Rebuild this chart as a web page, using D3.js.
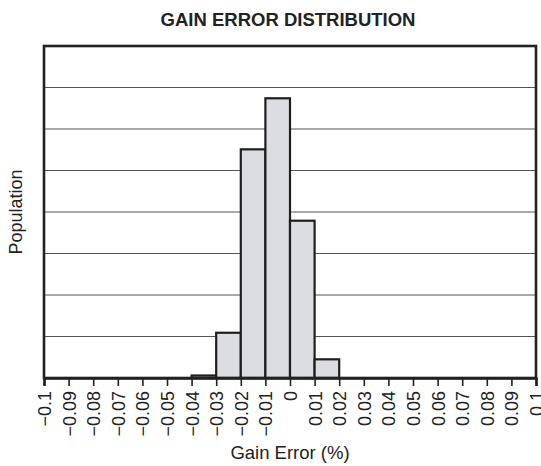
<!DOCTYPE html>
<html>
<head>
<meta charset="utf-8">
<script src="https://cdn.jsdelivr.net/npm/d3@7"></script>
<style>
  html, body { margin: 0; padding: 0; background: #fff; }
  svg { display: block; }
  text { font-family: "Liberation Sans", Arial, Helvetica, sans-serif; fill: #222; }
</style>
</head>
<body>
<svg id="chart" width="541" height="466"></svg>
<script>
// Data (population in gridline units; axis has no numeric labels)
const binStarts = [-0.04, -0.03, -0.02, -0.01, 0.00, 0.01];
const binWidth = 0.01;
const population = [0.06, 1.09, 5.51, 6.74, 3.79, 0.45];
const xTickValues = [-0.1, -0.09, -0.08, -0.07, -0.06, -0.05, -0.04, -0.03, -0.02, -0.01, 0,
                     0.01, 0.02, 0.03, 0.04, 0.05, 0.06, 0.07, 0.08, 0.09, 0.1];
const xTickLabels = ["\u22120.1", "\u22120.09", "\u22120.08", "\u22120.07", "\u22120.06", "\u22120.05",
                     "\u22120.04", "\u22120.03", "\u22120.02", "\u22120.01", "0",
                     "0.01", "0.02", "0.03", "0.04", "0.05", "0.06", "0.07", "0.08", "0.09", "0.1"];
const yGridValues = [1, 2, 3, 4, 5, 6, 7];
const title = "GAIN ERROR DISTRIBUTION";
const xLabel = "Gain Error (%)";
const yLabel = "Population";

const svg = d3.select("#chart");
const L = 44, R = 536, T = 46, B = 378;

const x = d3.scaleLinear().domain([-0.1, 0.1]).range([L, R]);
const y = d3.scaleLinear().domain([0, 8]).range([B, T]);

// Gridlines
svg.append("g").selectAll("line").data(yGridValues).join("line")
  .attr("x1", L).attr("x2", R)
  .attr("y1", d => y(d)).attr("y2", d => y(d))
  .attr("stroke", "#555").attr("stroke-width", 1.2);

// Bars
svg.append("g").selectAll("rect").data(binStarts).join("rect")
  .attr("x", d => x(d))
  .attr("width", d => x(d + binWidth) - x(d))
  .attr("y", (d, i) => y(population[i]))
  .attr("height", (d, i) => B - y(population[i]))
  .attr("fill", "#dcdde0")
  .attr("stroke", "#1e1e1e")
  .attr("stroke-width", 2.2);

// Frame
svg.append("rect")
  .attr("x", L).attr("y", T).attr("width", R - L).attr("height", B - T)
  .attr("fill", "none").attr("stroke", "#222").attr("stroke-width", 2.6);

// X axis
const xAxis = d3.axisBottom(x)
  .tickValues(xTickValues)
  .tickSize(8)
  .tickFormat((d, i) => xTickLabels[i]);
const gx = svg.append("g").attr("transform", `translate(0,${B})`).call(xAxis);
gx.select(".domain").attr("stroke", "#222").attr("stroke-width", 2.6);
gx.selectAll(".tick line").attr("stroke", "#222").attr("stroke-width", 1.6);
gx.selectAll(".tick text")
  .attr("font-size", 18)
  .attr("font-family", "'Liberation Sans', Arial, Helvetica, sans-serif")
  .attr("fill", "#222")
  .attr("text-anchor", "end")
  .attr("transform", "rotate(-90)")
  .attr("x", -13)
  .attr("y", 0)
  .attr("dy", "0.36em");

// Title
svg.append("text")
  .attr("x", 288).attr("y", 26)
  .attr("text-anchor", "middle")
  .attr("font-size", 18.5).attr("font-weight", "bold")
  .text(title);

// X label
svg.append("text")
  .attr("x", 290).attr("y", 459)
  .attr("text-anchor", "middle")
  .attr("font-size", 18.5)
  .text(xLabel);

// Y label
svg.append("text")
  .attr("transform", `translate(22,${(T + B) / 2}) rotate(-90)`)
  .attr("text-anchor", "middle")
  .attr("font-size", 18)
  .text(yLabel);
</script>
</body>
</html>
